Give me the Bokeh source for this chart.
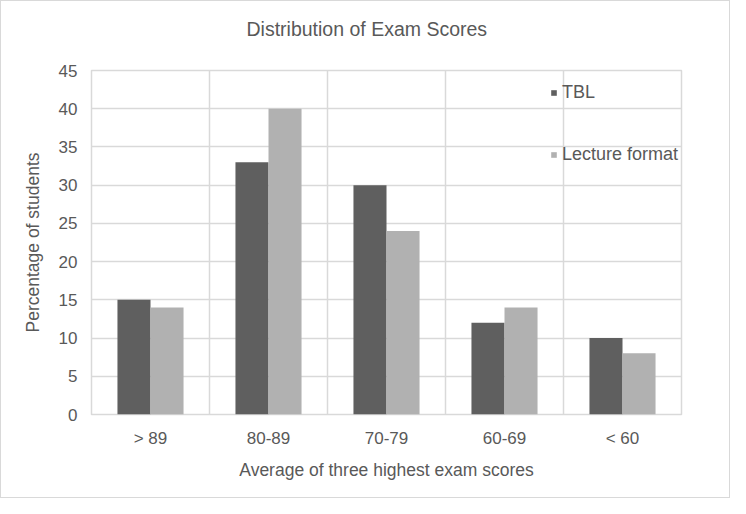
from bokeh.plotting import figure
from bokeh.models import Range1d, FixedTicker, Legend, LegendItem, ColumnDataSource
from bokeh.embed import file_html
from bokeh.resources import INLINE
from bokeh.transform import dodge

title_text = "Distribution of Exam Scores"
categories = ["> 89", "80-89", "70-79", "60-69", "< 60"]
tbl = [15, 33, 30, 12, 10]
lecture = [14, 40, 24, 14, 8]
y_ticks = [0, 5, 10, 15, 20, 25, 30, 35, 40, 45]

FONT = "Liberation Sans"
TXT = "#595959"
GRID = "#d9d9d9"

xs = list(range(1, len(categories) + 1))
src = ColumnDataSource(dict(x=xs, tbl=tbl, lecture=lecture))

p = figure(width=730, height=498, output_backend="svg", toolbar_location=None,
           x_range=Range1d(0.5, len(categories) + 0.5), y_range=Range1d(0, 45),
           min_border_left=90, min_border_right=50, min_border_top=69, min_border_bottom=85,
           title=title_text + "\n")
p.styles = {"border": "1px solid #d9d9d9", "box-sizing": "border-box"}

p.title.align = "left"
p.title.offset = 155
p.title.text_font = FONT
p.title.text_font_size = "19.5px"
p.title.text_font_style = "normal"
p.title.text_color = TXT
p.title.standoff = 18

r1 = p.vbar(x=dodge("x", -0.14), top="tbl", width=0.28, source=src, fill_color="#5f5f5f", line_color=None)
r2 = p.vbar(x=dodge("x", 0.14), top="lecture", width=0.28, source=src, fill_color="#b1b1b1", line_color=None)

p.outline_line_color = GRID
p.outline_line_width = 1.5
p.xgrid.ticker = FixedTicker(ticks=[x + 0.5 for x in range(0, len(categories) + 1)])
p.ygrid.ticker = FixedTicker(ticks=y_ticks)
for g in (p.xgrid, p.ygrid):
    g.grid_line_color = GRID
    g.grid_line_width = 1.5

p.xaxis.ticker = FixedTicker(ticks=xs)
p.xaxis.major_label_overrides = {x: c for x, c in zip(xs, categories)}
p.yaxis.ticker = FixedTicker(ticks=y_ticks)
for ax in (p.xaxis[0], p.yaxis[0]):
    ax.axis_line_color = None
    ax.major_tick_line_color = None
    ax.minor_tick_line_color = None
    ax.major_tick_out = 0
    ax.major_tick_in = 0
    ax.minor_tick_out = 0
    ax.major_label_text_font = FONT
    ax.major_label_text_font_size = "17px"
    ax.major_label_text_color = TXT
    ax.axis_label_text_font = FONT
    ax.axis_label_text_font_size = "17.5px"
    ax.axis_label_text_font_style = "normal"
    ax.axis_label_text_color = TXT
p.xaxis.major_label_standoff = 14
p.yaxis.major_label_standoff = 14
p.xaxis.axis_label = "Average of three highest exam scores"
p.yaxis.axis_label = "Percentage of students"
p.xaxis.axis_label_standoff = 9
p.yaxis.axis_label_standoff = 13

legend = Legend(items=[LegendItem(label="TBL", renderers=[r1]),
                       LegendItem(label="Lecture format", renderers=[r2])],
                location=(459, 249), orientation="vertical",
                glyph_width=7, glyph_height=7, label_standoff=5,
                label_height=22, spacing=40, padding=0, margin=0,
                label_text_font=FONT, label_text_font_size="18px", label_text_color=TXT,
                background_fill_alpha=0, border_line_color=None)
p.add_layout(legend)

open("out.html", "w").write(file_html(p, INLINE))
